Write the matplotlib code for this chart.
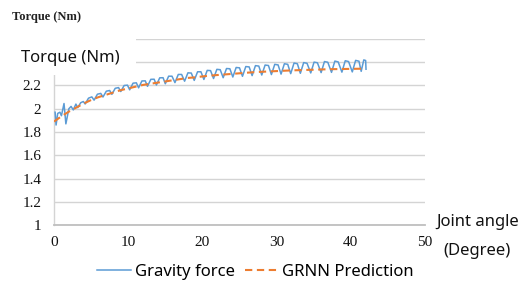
import matplotlib
matplotlib.use("Agg")
import matplotlib.pyplot as plt
from matplotlib.patches import Rectangle

# ---------------- data ----------------
grnn_angle = [0, 1, 2, 3, 4, 5, 6, 7, 8, 9, 10, 11, 12, 13, 14, 15, 16, 17, 18, 19, 20,
              21, 22, 23, 24, 25, 26, 27, 28, 29, 30, 31, 32, 33, 34, 35, 36, 37, 38, 39,
              40, 41, 42]
grnn_torque = [1.89, 1.935, 1.975, 2.01, 2.045, 2.075, 2.10, 2.12, 2.14, 2.16, 2.175,
               2.19, 2.205, 2.215, 2.225, 2.235, 2.245, 2.255, 2.265, 2.27, 2.278, 2.285,
               2.29, 2.295, 2.30, 2.305, 2.31, 2.315, 2.318, 2.321, 2.324, 2.327, 2.33,
               2.332, 2.334, 2.336, 2.338, 2.34, 2.341, 2.342, 2.343, 2.344, 2.345]

grav_angle = [0.15, 0.28, 0.5, 0.8, 1.0, 1.35, 1.6, 2.0, 2.3, 2.6, 2.95,
              3.2, 3.6, 3.95,
              4.2, 4.65, 5.1,
              5.4, 5.85, 6.3,
              6.6, 7.05, 7.5,
              7.8, 8.25, 8.7,
              9.0, 9.45, 9.9,
              10.2, 10.65, 11.1,
              11.4, 11.85, 12.3,
              12.6, 13.05, 13.5,
              13.8, 14.25, 14.7,
              15.0, 15.45, 15.9,
              16.3, 16.75, 17.2,
              17.6, 18.05, 18.5,
              18.9, 19.35, 19.8,
              20.2, 20.65, 21.1,
              21.5, 21.95, 22.4,
              22.8, 23.25, 23.7,
              24.1, 24.55, 25.0,
              25.4, 25.85, 26.3,
              26.7, 27.15, 27.6,
              28.0, 28.45, 28.9,
              29.3, 29.75, 30.2,
              30.6, 31.05, 31.5,
              31.9, 32.35, 32.8,
              33.2, 33.65, 34.1,
              34.6, 35.05, 35.5,
              36.0, 36.45, 36.9,
              37.4, 37.85, 38.3,
              38.8, 39.25, 39.7,
              40.2, 40.65, 41.1,
              41.4, 41.75, 42.0, 42.05]
grav_torque = [1.97, 1.86, 1.96, 1.97, 1.94, 2.045, 1.87, 2.00, 2.02, 1.99, 2.04,
               2.01, 2.052, 2.062,
               2.041, 2.091, 2.102,
               2.074, 2.125, 2.132,
               2.101, 2.151, 2.157,
               2.124, 2.176, 2.182,
               2.148, 2.200, 2.203,
               2.163, 2.220, 2.223,
               2.180, 2.239, 2.240,
               2.193, 2.253, 2.254,
               2.204, 2.266, 2.267,
               2.215, 2.280, 2.280,
               2.225, 2.295, 2.295,
               2.237, 2.309, 2.307,
               2.244, 2.318, 2.318,
               2.252, 2.330, 2.328,
               2.260, 2.339, 2.336,
               2.267, 2.346, 2.344,
               2.273, 2.355, 2.352,
               2.279, 2.363, 2.360,
               2.285, 2.371, 2.367,
               2.290, 2.376, 2.372,
               2.294, 2.382, 2.377,
               2.298, 2.387, 2.382,
               2.302, 2.393, 2.387,
               2.305, 2.397, 2.391,
               2.308, 2.401, 2.3955,
               2.311, 2.406, 2.400,
               2.313, 2.410, 2.403,
               2.315, 2.413, 2.406,
               2.317, 2.416, 2.409,
               2.322, 2.420, 2.415, 2.34]

x_ticks = [0, 10, 20, 30, 40, 50]
y_ticks = [1, 1.2, 1.4, 1.6, 1.8, 2.0, 2.2, 2.4, 2.6]
y_tick_labels = ["1", "1.2", "1.4", "1.6", "1.8", "2", "2.2", "", ""]

# ---------------- figure ----------------
W, H = 527, 282
fig = plt.figure(figsize=(W / 100, H / 100), dpi=100)
left, right = 54 / W, 425 / W
bottom, top = 1 - 225 / H, 1 - 39 / H
ax = fig.add_axes([left, bottom, right - left, top - bottom])

BLUE = "#5b9bd5"
ORANGE = "#ed7d31"

ax.plot(grav_angle, grav_torque, color=BLUE, lw=1.1, label="Gravity force", zorder=3)
ax.plot(grnn_angle, grnn_torque, color=ORANGE, lw=1.5, linestyle=(0, (3.5, 2.2)),
        label="GRNN Prediction", zorder=4)

ax.set_xlim(0, 50)
ax.set_ylim(1, 2.6)
ax.set_xticks(x_ticks)
ax.set_yticks(y_ticks)
ax.set_yticklabels(y_tick_labels)
ax.tick_params(length=0)
ax.tick_params(axis="y", pad=9)
ax.tick_params(axis="x", pad=8)
for lab in ax.get_xticklabels() + ax.get_yticklabels():
    lab.set_fontfamily("Liberation Serif")
    lab.set_fontsize(11)
    lab.set_color("#111111")

ax.yaxis.grid(True, color="#d4d4d4", lw=1.0)
ax.set_axisbelow(True)
for s in ["top", "right"]:
    ax.spines[s].set_visible(False)
ax.spines["left"].set_color("#d4d4d4")
ax.spines["left"].set_linewidth(1.0)
ax.spines["bottom"].set_color("#bfbfbf")
ax.spines["bottom"].set_linewidth(1.3)

# white box hiding upper-left part of the grid (under the inner label)
ax.add_patch(Rectangle((-0.2, (2.29 - 1) / 1.6), 0.2 + (136 - 54) / 371, 0.3,
                       transform=ax.transAxes, facecolor="white", edgecolor="none",
                       zorder=5, clip_on=False))

fig.text(21 / W, 1 - 58 / H, "Torque (Nm)", family="Noto Sans", fontsize=12,
         ha="left", va="center", color="#111111", zorder=6)
fig.text(12 / W, 1 - 17 / H, "Torque (Nm)", family="Liberation Serif", fontsize=9,
         fontweight="bold", ha="left", va="center", color="#222222")
fig.text(436 / W, 1 - 222 / H, "Joint angle", family="Noto Sans", fontsize=12,
         ha="left", va="center", color="#111111")
fig.text(443 / W, 1 - 251 / H, "(Degree)", family="Noto Sans", fontsize=12,
         ha="left", va="center", color="#111111")

fig.legend(loc="center", bbox_to_anchor=(0.485, 1 - 272 / H), ncol=2, frameon=False,
           prop={"family": "Noto Sans", "size": 12}, handlelength=2.0,
           handletextpad=0.25, columnspacing=0.6, borderaxespad=0, borderpad=0)

fig.savefig("out.png", dpi=100)
